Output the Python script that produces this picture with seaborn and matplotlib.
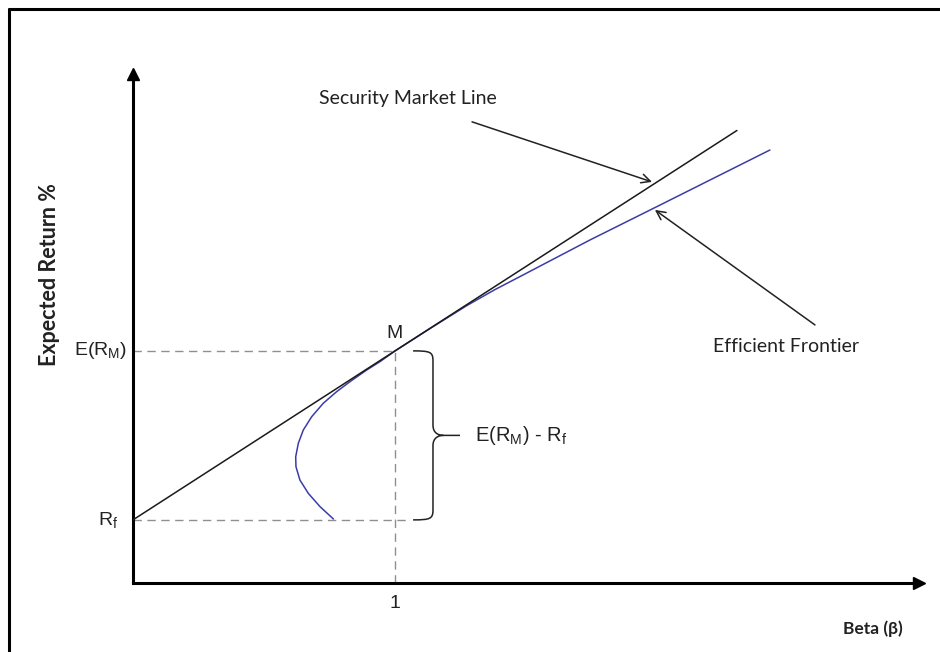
import numpy as np
import pandas as pd
import seaborn as sns
import matplotlib
matplotlib.use("Agg")
import matplotlib.pyplot as plt
from matplotlib.path import Path
from matplotlib.patches import PathPatch
from matplotlib.lines import Line2D

# ---------------- data ----------------
risk_free = 1.24          # R_f
market_return = 4.56      # E(R_M)
market_beta = 1.0

sml_beta = [0.0, 1.0, 2.305]
sml_return = [1.24, 4.56, 8.89]

frontier_beta = [0.765, 0.714, 0.669, 0.637, 0.622, 0.621, 0.631, 0.650, 0.682,
                 0.726, 0.777, 0.828, 0.892, 0.943, 1.000, 1.134, 1.274, 1.380,
                 1.490, 1.744, 1.999, 2.431]
frontier_return = [1.257, 1.499, 1.762, 2.024, 2.285, 2.481, 2.745, 3.006, 3.267,
                   3.530, 3.758, 3.955, 4.185, 4.350, 4.558, 5.000, 5.450, 5.760,
                   6.055, 6.739, 7.393, 8.507]

x_tick_values = [1.0]
x_tick_labels = ["1"]

# ---------------- styling ----------------
sns.set_theme(style="white")
plt.rcParams["font.family"] = ["Liberation Sans", "DejaVu Sans"]
plt.rcParams["mathtext.fontset"] = "custom"
plt.rcParams["mathtext.rm"] = "Liberation Sans"
plt.rcParams["mathtext.default"] = "regular"

W, H = 940, 652
fig = plt.figure(figsize=(W / 100, H / 100), dpi=100)
fig.patch.set_facecolor("white")
ax = fig.add_axes([133 / W, (H - 583) / H, 786 / W, 509 / H])
ax.set_facecolor("white")

ax.set_xlim(0, 3.0)
ax.set_ylim(0, 10)

# axes spines with arrows
for s in ["top", "right"]:
    ax.spines[s].set_visible(False)
for s in ["left", "bottom"]:
    ax.spines[s].set_linewidth(2.2)
    ax.spines[s].set_color("black")
ax.plot(1, 0, ">", color="black", markersize=9, transform=ax.transAxes, clip_on=False)
ax.plot(0, 1, "^", color="black", markersize=9, transform=ax.transAxes, clip_on=False)

# dashed guide lines
dash_kw = dict(color="#8f8f8f", lw=1.0, linestyle=(0, (6, 4)), zorder=1)
ax.plot([0, market_beta], [market_return, market_return], **dash_kw)
ax.plot([0, 1.057], [risk_free, risk_free], **dash_kw)
ax.plot([market_beta, market_beta], [0, market_return], **dash_kw)

# security market line and efficient frontier
sml_df = pd.DataFrame({"beta": sml_beta, "ret": sml_return})
fr_df = pd.DataFrame({"beta": frontier_beta, "ret": frontier_return})
sns.lineplot(data=sml_df, x="beta", y="ret", color="#1a1a1a", lw=1.1, sort=False,
             estimator=None, ax=ax, zorder=3)
sns.lineplot(data=fr_df, x="beta", y="ret", color="#3c3ca8", lw=1.1, sort=False,
             estimator=None, ax=ax, zorder=2)

# ticks
ax.set_xticks(x_tick_values)
ax.set_xticklabels(x_tick_labels, fontsize=14, color="#222222")
ax.tick_params(axis="x", length=0, pad=9)
ax.set_yticks([])
ytrans = matplotlib.transforms.blended_transform_factory(ax.transAxes, ax.transData)
ax.text(-6 / 786, market_return, r"E(R$_M$)", ha="right", va="center", fontsize=14,
        color="#222222", transform=ytrans)
ax.text(-15 / 786, risk_free, r"R$_f$", ha="right", va="center", fontsize=14,
        color="#222222", transform=ytrans)

# axis labels
ax.set_xlabel("Beta (β)", fontsize=12.5, fontweight="bold", family=["Lato", "DejaVu Sans"],
              color="#222222")
ax.xaxis.set_label_coords(0.9416, -0.073)
ax.set_ylabel("Expected Return %", fontsize=15.5, fontweight="bold",
              family=["Lato", "DejaVu Sans"], color="#222222")
ax.yaxis.set_label_coords(-0.093, 0.605)

# M label
ax.text(market_beta, market_return + 0.17, "M", ha="center", va="bottom", fontsize=14,
        color="#222222")

# brace
xl, xm, xp, xt = 1.069, 1.145, 1.185, 1.248
yt, yb = market_return, risk_free
ym = (yt + yb) / 2
verts = [(xl, yt), (xm - 0.01, yt), (xm, yt - 0.02), (xm, yt - 0.2),
         (xm, ym + 0.2),
         (xm, ym + 0.05), (xp - 0.02, ym), (xp, ym),
         (xt, ym),
         (xp, ym), (xp - 0.02, ym), (xm, ym - 0.05), (xm, ym - 0.2),
         (xm, yb + 0.2),
         (xm, yb + 0.02), (xm - 0.01, yb), (xl, yb)]
codes = [Path.MOVETO, Path.CURVE4, Path.CURVE4, Path.CURVE4,
         Path.LINETO,
         Path.CURVE4, Path.CURVE4, Path.CURVE4,
         Path.LINETO,
         Path.MOVETO, Path.CURVE4, Path.CURVE4, Path.CURVE4,
         Path.LINETO,
         Path.CURVE4, Path.CURVE4, Path.CURVE4]
ax.add_patch(PathPatch(Path(verts, codes), fill=False, edgecolor="#222222", lw=1.1))
ax.text(1.305, ym, r"E(R$_M$) - R$_f$", ha="left", va="center", fontsize=14.5,
        color="#222222")

# annotations
ann_font = ["Lato", "DejaVu Sans"]
ax.text(1.050, 9.51, "Security Market Line", ha="center", va="center", fontsize=14,
        family=ann_font, color="#222222")
ax.annotate("", xy=(1.981, 7.88), xytext=(1.294, 9.06),
            arrowprops=dict(arrowstyle="->", lw=1.1, color="#222222", mutation_scale=16,
                            shrinkA=0, shrinkB=0))
ax.text(2.492, 4.64, "Efficient Frontier", ha="center", va="center", fontsize=14,
        family=ann_font, color="#222222")
ax.annotate("", xy=(1.992, 7.33), xytext=(2.603, 5.07),
            arrowprops=dict(arrowstyle="->", lw=1.1, color="#222222", mutation_scale=16,
                            shrinkA=0, shrinkB=0))

# outer frame (top and left edges visible)
fig.add_artist(Line2D([9 / W, 1], [1 - 9 / H, 1 - 9 / H], transform=fig.transFigure,
                      color="black", lw=2.2))
fig.add_artist(Line2D([9 / W, 9 / W], [0, 1 - 9 / H], transform=fig.transFigure,
                      color="black", lw=2.2))

fig.savefig("out.png", dpi=100, facecolor="white")
